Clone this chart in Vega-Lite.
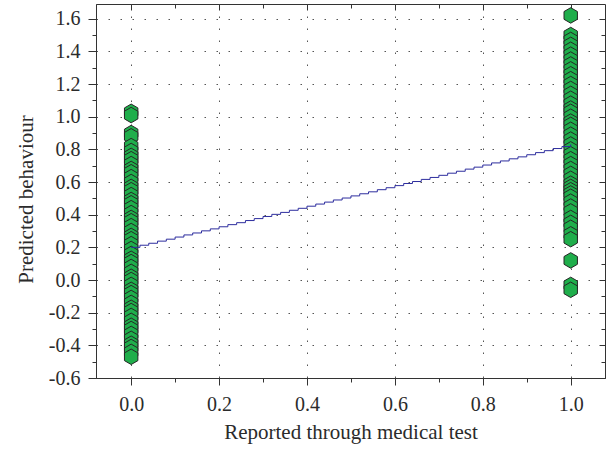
{
  "$schema": "https://vega.github.io/schema/vega-lite/v6.json",
  "width": 509,
  "height": 374,
  "autosize": "none",
  "padding": {"left": 96, "top": 4, "right": 4, "bottom": 73},
  "background": "white",
  "config": {
    "view": {"stroke": "#333333", "strokeWidth": 1},
    "font": "Liberation Serif",
    "axis": {
      "domainColor": "#333333",
      "tickColor": "#333333",
      "labelFont": "Liberation Serif",
      "labelFontSize": 20,
      "labelColor": "#2b2b2b",
      "titleFont": "Liberation Serif",
      "titleFontSize": 21,
      "titleFontWeight": "normal",
      "titleColor": "#2b2b2b"
    }
  },
  "datasets": {
    "cases": [
      {"reported": 0, "predicted": 1.03}, {"reported": 0, "predicted": 1.01},
      {"reported": 0, "predicted": 0.90}, {"reported": 0, "predicted": 0.88},
      {"reported": 0, "predicted": 0.82}, {"reported": 0, "predicted": 0.79},
      {"reported": 0, "predicted": 0.76}, {"reported": 0, "predicted": 0.74},
      {"reported": 0, "predicted": 0.71}, {"reported": 0, "predicted": 0.68},
      {"reported": 0, "predicted": 0.66}, {"reported": 0, "predicted": 0.63},
      {"reported": 0, "predicted": 0.60}, {"reported": 0, "predicted": 0.57},
      {"reported": 0, "predicted": 0.55}, {"reported": 0, "predicted": 0.52},
      {"reported": 0, "predicted": 0.49}, {"reported": 0, "predicted": 0.47},
      {"reported": 0, "predicted": 0.44}, {"reported": 0, "predicted": 0.41},
      {"reported": 0, "predicted": 0.38}, {"reported": 0, "predicted": 0.36},
      {"reported": 0, "predicted": 0.33}, {"reported": 0, "predicted": 0.30},
      {"reported": 0, "predicted": 0.27}, {"reported": 0, "predicted": 0.25},
      {"reported": 0, "predicted": 0.22}, {"reported": 0, "predicted": 0.19},
      {"reported": 0, "predicted": 0.16}, {"reported": 0, "predicted": 0.13},
      {"reported": 0, "predicted": 0.11}, {"reported": 0, "predicted": 0.08},
      {"reported": 0, "predicted": 0.05}, {"reported": 0, "predicted": 0.02},
      {"reported": 0, "predicted": 0.00}, {"reported": 0, "predicted": -0.03},
      {"reported": 0, "predicted": -0.06}, {"reported": 0, "predicted": -0.08},
      {"reported": 0, "predicted": -0.11}, {"reported": 0, "predicted": -0.14},
      {"reported": 0, "predicted": -0.17}, {"reported": 0, "predicted": -0.19},
      {"reported": 0, "predicted": -0.22}, {"reported": 0, "predicted": -0.25},
      {"reported": 0, "predicted": -0.28}, {"reported": 0, "predicted": -0.30},
      {"reported": 0, "predicted": -0.33}, {"reported": 0, "predicted": -0.36},
      {"reported": 0, "predicted": -0.39}, {"reported": 0, "predicted": -0.41},
      {"reported": 0, "predicted": -0.44}, {"reported": 0, "predicted": -0.47},
      {"reported": 1, "predicted": 1.62}, {"reported": 1, "predicted": 1.50},
      {"reported": 1, "predicted": 1.47}, {"reported": 1, "predicted": 1.44},
      {"reported": 1, "predicted": 1.41}, {"reported": 1, "predicted": 1.38},
      {"reported": 1, "predicted": 1.35}, {"reported": 1, "predicted": 1.32},
      {"reported": 1, "predicted": 1.29}, {"reported": 1, "predicted": 1.26},
      {"reported": 1, "predicted": 1.23}, {"reported": 1, "predicted": 1.20},
      {"reported": 1, "predicted": 1.17}, {"reported": 1, "predicted": 1.14},
      {"reported": 1, "predicted": 1.11}, {"reported": 1, "predicted": 1.08},
      {"reported": 1, "predicted": 1.05}, {"reported": 1, "predicted": 1.03},
      {"reported": 1, "predicted": 1.00}, {"reported": 1, "predicted": 0.97},
      {"reported": 1, "predicted": 0.95}, {"reported": 1, "predicted": 0.92},
      {"reported": 1, "predicted": 0.89}, {"reported": 1, "predicted": 0.86},
      {"reported": 1, "predicted": 0.83}, {"reported": 1, "predicted": 0.80},
      {"reported": 1, "predicted": 0.77}, {"reported": 1, "predicted": 0.74},
      {"reported": 1, "predicted": 0.71}, {"reported": 1, "predicted": 0.68},
      {"reported": 1, "predicted": 0.65}, {"reported": 1, "predicted": 0.62},
      {"reported": 1, "predicted": 0.59}, {"reported": 1, "predicted": 0.57},
      {"reported": 1, "predicted": 0.55}, {"reported": 1, "predicted": 0.53},
      {"reported": 1, "predicted": 0.51}, {"reported": 1, "predicted": 0.48},
      {"reported": 1, "predicted": 0.45}, {"reported": 1, "predicted": 0.42},
      {"reported": 1, "predicted": 0.38}, {"reported": 1, "predicted": 0.35},
      {"reported": 1, "predicted": 0.32}, {"reported": 1, "predicted": 0.28},
      {"reported": 1, "predicted": 0.25}, {"reported": 1, "predicted": 0.12},
      {"reported": 1, "predicted": -0.03}, {"reported": 1, "predicted": -0.06}
    ],
    "fit": [
      {"reported": 0.00, "fitted": 0.200}, {"reported": 0.02, "fitted": 0.213},
      {"reported": 0.04, "fitted": 0.225}, {"reported": 0.06, "fitted": 0.238},
      {"reported": 0.08, "fitted": 0.250}, {"reported": 0.10, "fitted": 0.263},
      {"reported": 0.12, "fitted": 0.276}, {"reported": 0.14, "fitted": 0.288},
      {"reported": 0.16, "fitted": 0.301}, {"reported": 0.18, "fitted": 0.313},
      {"reported": 0.20, "fitted": 0.326}, {"reported": 0.22, "fitted": 0.339},
      {"reported": 0.24, "fitted": 0.351}, {"reported": 0.26, "fitted": 0.364},
      {"reported": 0.28, "fitted": 0.376}, {"reported": 0.30, "fitted": 0.389},
      {"reported": 0.32, "fitted": 0.402}, {"reported": 0.34, "fitted": 0.414},
      {"reported": 0.36, "fitted": 0.427}, {"reported": 0.38, "fitted": 0.439},
      {"reported": 0.40, "fitted": 0.452}, {"reported": 0.42, "fitted": 0.465},
      {"reported": 0.44, "fitted": 0.477}, {"reported": 0.46, "fitted": 0.490},
      {"reported": 0.48, "fitted": 0.502}, {"reported": 0.50, "fitted": 0.515},
      {"reported": 0.52, "fitted": 0.528}, {"reported": 0.54, "fitted": 0.540},
      {"reported": 0.56, "fitted": 0.553}, {"reported": 0.58, "fitted": 0.565},
      {"reported": 0.60, "fitted": 0.578}, {"reported": 0.62, "fitted": 0.591},
      {"reported": 0.64, "fitted": 0.603}, {"reported": 0.66, "fitted": 0.616},
      {"reported": 0.68, "fitted": 0.628}, {"reported": 0.70, "fitted": 0.641},
      {"reported": 0.72, "fitted": 0.654}, {"reported": 0.74, "fitted": 0.666},
      {"reported": 0.76, "fitted": 0.679}, {"reported": 0.78, "fitted": 0.691},
      {"reported": 0.80, "fitted": 0.704}, {"reported": 0.82, "fitted": 0.717},
      {"reported": 0.84, "fitted": 0.729}, {"reported": 0.86, "fitted": 0.742},
      {"reported": 0.88, "fitted": 0.754}, {"reported": 0.90, "fitted": 0.767},
      {"reported": 0.92, "fitted": 0.780}, {"reported": 0.94, "fitted": 0.792},
      {"reported": 0.96, "fitted": 0.805}, {"reported": 0.98, "fitted": 0.817},
      {"reported": 1.00, "fitted": 0.830}
    ]
  },
  "layer": [
    {
      "data": {"name": "cases"},
      "mark": {
        "type": "point",
        "shape": "M0,-1L0.866,-0.5L0.866,0.5L0,1L-0.866,0.5L-0.866,-0.5Z",
        "filled": true,
        "fill": "#1fae4b",
        "stroke": "#262626",
        "strokeWidth": 1,
        "opacity": 1,
        "size": 240
      },
      "encoding": {
        "x": {
          "field": "reported",
          "type": "quantitative",
          "scale": {"domain": [-0.08, 1.078], "nice": false, "zero": false},
          "axis": {
            "orient": "bottom",
            "title": "Reported through medical test",
            "values": [0, 0.1, 0.2, 0.3, 0.4, 0.5, 0.6, 0.7, 0.8, 0.9, 1.0],
            "labelExpr": "abs(round(datum.value * 10)) % 2 == 0 ? format(datum.value, '.1f') : ''",
            "tickSize": {"condition": {"test": "abs(round(datum.value * 10)) % 2 == 0", "value": 7}, "value": 4},
            "labelPadding": 9,
            "titlePadding": 7,
            "grid": true,
            "gridColor": "#555555",
            "gridDash": [1.5, 10.5],
            "gridOpacity": {"condition": {"test": "abs(round(datum.value * 10)) % 2 == 0", "value": 1}, "value": 0}
          }
        },
        "y": {
          "field": "predicted",
          "type": "quantitative",
          "scale": {"domain": [-0.6, 1.69], "nice": false, "zero": false},
          "axis": {
            "orient": "left",
            "title": "Predicted behaviour",
            "titleY": 195,
            "values": [-0.6, -0.5, -0.4, -0.3, -0.2, -0.1, 0, 0.1, 0.2, 0.3, 0.4, 0.5, 0.6, 0.7, 0.8, 0.9, 1.0, 1.1, 1.2, 1.3, 1.4, 1.5, 1.6],
            "labelExpr": "abs(round(datum.value * 10)) % 2 == 0 ? replace(format(datum.value, '.1f'), '\u2212', '-') : ''",
            "tickSize": {"condition": {"test": "abs(round(datum.value * 10)) % 2 == 0", "value": 8}, "value": 4},
            "labelPadding": 8,
            "titlePadding": 12,
            "grid": true,
            "gridColor": "#555555",
            "gridDash": [1.5, 10.5],
            "gridOpacity": {"condition": {"test": "abs(round(datum.value * 10)) % 2 == 0", "value": 1}, "value": 0}
          }
        }
      }
    },
    {
      "data": {"name": "fit"},
      "mark": {"type": "line", "interpolate": "step-after", "color": "#2d2d9e", "strokeWidth": 1},
      "encoding": {
        "x": {
          "field": "reported",
          "type": "quantitative",
          "scale": {"domain": [-0.08, 1.078], "nice": false, "zero": false},
          "axis": {
            "orient": "top",
            "title": null,
            "labels": false,
            "domain": false,
            "grid": false,
            "values": [0, 0.1, 0.2, 0.3, 0.4, 0.5, 0.6, 0.7, 0.8, 0.9, 1.0],
            "tickSize": {"condition": {"test": "abs(round(datum.value * 10)) % 2 == 0", "value": -6}, "value": -4}
          }
        },
        "y": {
          "field": "fitted",
          "type": "quantitative",
          "scale": {"domain": [-0.6, 1.69], "nice": false, "zero": false},
          "axis": {
            "orient": "right",
            "title": null,
            "labels": false,
            "domain": false,
            "grid": false,
            "values": [-0.6, -0.5, -0.4, -0.3, -0.2, -0.1, 0, 0.1, 0.2, 0.3, 0.4, 0.5, 0.6, 0.7, 0.8, 0.9, 1.0, 1.1, 1.2, 1.3, 1.4, 1.5, 1.6],
            "tickSize": {"condition": {"test": "abs(round(datum.value * 10)) % 2 == 0", "value": -6}, "value": -4}
          }
        }
      }
    }
  ],
  "resolve": {"axis": {"x": "independent", "y": "independent"}}
}
